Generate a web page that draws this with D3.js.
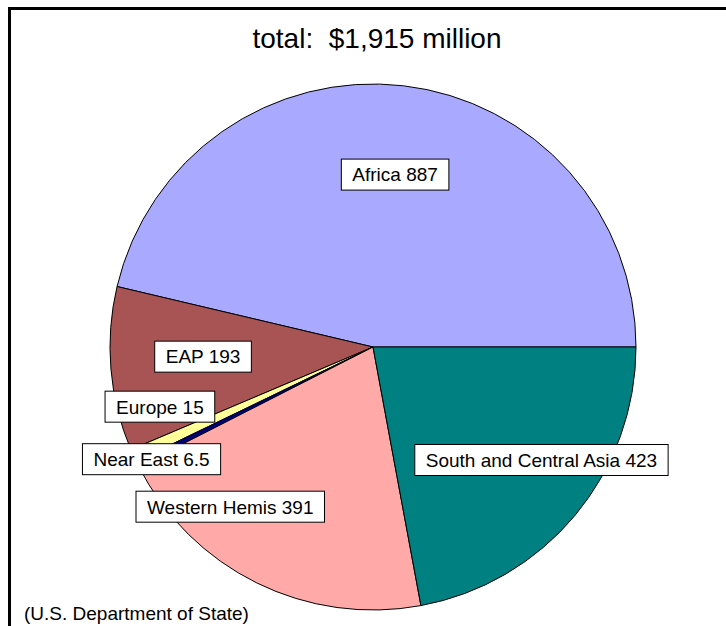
<!DOCTYPE html>
<html>
<head>
<meta charset="utf-8">
<style>
  body { margin: 0; background: #fff; }
  text { font-family: "Liberation Sans", Arial, sans-serif; fill: #000; white-space: pre; }
</style>
</head>
<body>
<script src="https://cdn.jsdelivr.net/npm/d3@7"></script>
<script>
// data (millions of dollars)
var regions = ['Africa', 'EAP', 'Europe', 'Near East', 'Western Hemis', 'South and Central Asia'];
var amounts = [887, 193, 15, 6.5, 391, 423];
var amountLabels = ['887', '193', '15', '6.5', '391', '423'];
var colors = ['#a9a9ff', '#a85454', '#ffff99', '#000080', '#ffa9a9', '#008080'];

// where each label box sits, as a shift from the slice centroid
var labelShift = [[2, 0], [3, -5], [-55, -12], [-66, 35], [-66, 4], [35, 2]];

var width = 726, height = 626;
var cx = 373, cy = 347, radius = 263;

var svg = d3.select('body').append('svg')
  .attr('width', width)
  .attr('height', height);

// frame: only top and left edges show
svg.append('path')
  .attr('d', 'M9.5,' + height + 'V8.5H' + width)
  .attr('fill', 'none')
  .attr('stroke', '#000')
  .attr('stroke-width', 3);

svg.append('text')
  .attr('x', 377)
  .attr('y', 48)
  .attr('text-anchor', 'middle')
  .style('font-size', '28px')
  .text('total:  $1,915 million');

// slices go counter-clockwise from 3 o'clock
var pie = d3.pie()
  .sort(null)
  .value(function(d) { return d; })
  .startAngle(Math.PI / 2)
  .endAngle(Math.PI / 2 - 2 * Math.PI);

var arcs = pie(amounts);

var arc = d3.arc().innerRadius(0).outerRadius(radius);
var labelArc = d3.arc().innerRadius(radius * 0.66).outerRadius(radius * 0.66);

var g = svg.append('g').attr('transform', 'translate(' + cx + ',' + cy + ')');

g.selectAll('path.slice')
  .data(arcs)
  .enter()
  .append('path')
  .attr('class', 'slice')
  .attr('d', arc)
  .attr('fill', function(d, i) { return colors[i]; })
  .attr('stroke', '#000')
  .attr('stroke-width', 1)
  .attr('stroke-linejoin', 'round');

var labels = g.selectAll('g.lbl')
  .data(arcs)
  .enter()
  .append('g')
  .attr('class', 'lbl')
  .attr('transform', function(d, i) {
    var c = labelArc.centroid(d);
    return 'translate(' + (c[0] + labelShift[i][0]) + ',' + (c[1] + labelShift[i][1]) + ')';
  });

labels.append('rect');
labels.append('text')
  .attr('text-anchor', 'middle')
  .attr('dy', '0.36em')
  .style('font-size', '19px')
  .text(function(d, i) { return regions[i] + ' ' + amountLabels[i]; });

labels.each(function() {
  var t = d3.select(this).select('text').node();
  var w = t.getComputedTextLength() + 22;
  d3.select(this).select('rect')
    .attr('x', -w / 2)
    .attr('y', -15.5)
    .attr('width', w)
    .attr('height', 31)
    .attr('fill', '#fff')
    .attr('stroke', '#000')
    .attr('stroke-width', 1);
});

svg.append('text')
  .attr('x', 24)
  .attr('y', 620)
  .style('font-size', '19px')
  .text('(U.S. Department of State)');
</script>
</body>
</html>
